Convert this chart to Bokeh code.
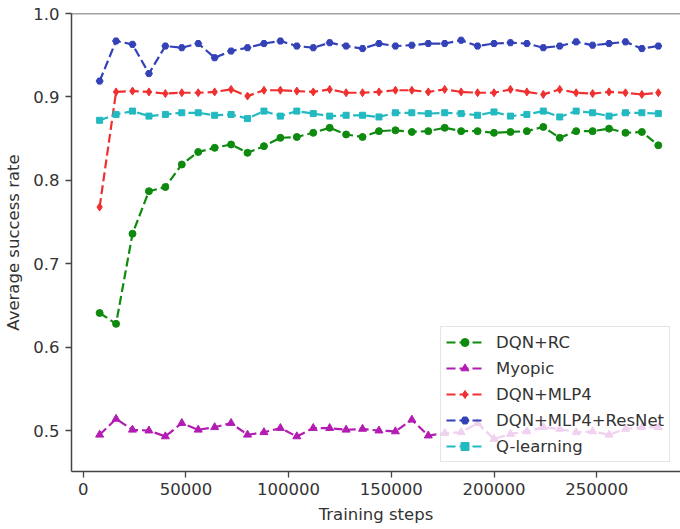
from bokeh.plotting import figure
from bokeh.models import (Range1d, FixedTicker, BasicTickFormatter, PrintfTickFormatter,
                          Legend, LegendItem, Span)
from bokeh.embed import file_html
from bokeh.resources import INLINE

steps = [8000, 16000, 24000, 32000, 40000, 48000, 56000, 64000, 72000, 80000,
         88000, 96000, 104000, 112000, 120000, 128000, 136000, 144000, 152000, 160000,
         168000, 176000, 184000, 192000, 200000, 208000, 216000, 224000, 232000, 240000,
         248000, 256000, 264000, 272000, 280000]

dqn_rc = [0.641, 0.628, 0.736, 0.787, 0.792, 0.819, 0.834, 0.839, 0.843, 0.833,
          0.841, 0.851, 0.852, 0.857, 0.863, 0.855, 0.852, 0.859, 0.860, 0.858,
          0.859, 0.863, 0.859, 0.859, 0.857, 0.858, 0.859, 0.864, 0.851, 0.859,
          0.859, 0.862, 0.857, 0.858, 0.842]

myopic = [0.495, 0.514, 0.501, 0.500, 0.493, 0.509, 0.501, 0.504, 0.509, 0.495,
          0.498, 0.503, 0.493, 0.503, 0.503, 0.501, 0.502, 0.500, 0.499, 0.513,
          0.494, 0.497, 0.498, 0.509, 0.490, 0.496, 0.499, 0.504, 0.502, 0.498,
          0.499, 0.495, 0.502, 0.504, 0.504]

dqn_mlp4 = [0.768, 0.906, 0.907, 0.906, 0.904, 0.905, 0.905, 0.906, 0.909, 0.901,
            0.908, 0.908, 0.907, 0.906, 0.909, 0.905, 0.905, 0.906, 0.908, 0.908,
            0.906, 0.909, 0.906, 0.905, 0.905, 0.909, 0.906, 0.903, 0.909, 0.905,
            0.904, 0.906, 0.905, 0.903, 0.905]

dqn_resnet = [0.919, 0.967, 0.963, 0.928, 0.961, 0.959, 0.964, 0.947, 0.955, 0.959,
              0.964, 0.967, 0.961, 0.959, 0.965, 0.961, 0.958, 0.964, 0.961, 0.962,
              0.964, 0.964, 0.968, 0.961, 0.964, 0.965, 0.964, 0.959, 0.961, 0.966,
              0.962, 0.964, 0.966, 0.958, 0.961]

q_learning = [0.872, 0.879, 0.883, 0.877, 0.879, 0.881, 0.881, 0.878, 0.879, 0.874,
              0.883, 0.877, 0.883, 0.880, 0.877, 0.878, 0.878, 0.876, 0.881, 0.881,
              0.880, 0.881, 0.880, 0.878, 0.882, 0.877, 0.879, 0.883, 0.876, 0.883,
              0.881, 0.877, 0.881, 0.881, 0.880]

x_ticks = [0, 50000, 100000, 150000, 200000, 250000]
y_ticks = [0.5, 0.6, 0.7, 0.8, 0.9, 1.0]

series = [
    ("DQN+RC", dqn_rc, "#0e8a0e", "circle", 7),
    ("Myopic", myopic, "#b21cb2", "triangle", 8),
    ("DQN+MLP4", dqn_mlp4, "#f03030", "diamond", 8),
    ("DQN+MLP4+ResNet", dqn_resnet, "#3442b8", "hex", 7),
    ("Q-learning", q_learning, "#22b9c0", "square", 6),
]

FONT = "DejaVu Sans"
TXT = "#333333"
FS = "16.5px"

p = figure(width=680, height=529, output_backend="svg", toolbar_location=None,
           x_range=Range1d(-5700, 290800), y_range=Range1d(0.451, 1.0),
           min_border_left=71, min_border_right=0, min_border_top=13,
           min_border_bottom=58)
p.outline_line_color = None
p.xgrid.grid_line_color = None
p.ygrid.grid_line_color = None

items = []
for name, vals, color, marker, size in series:
    r1 = p.line(steps, vals, line_color=color, line_width=2.2, line_dash="9 4")
    r2 = p.scatter(steps, vals, marker=marker, size=size, fill_color=color,
                   line_color=color)
    items.append(LegendItem(label=name, renderers=[r1, r2]))

p.add_layout(Span(location=1.0, dimension="width", line_color="#444444",
                  line_width=1.5))

for ax in (p.xaxis[0], p.yaxis[0]):
    ax.axis_line_color = "#444444"
    ax.axis_line_width = 1.5
    ax.major_tick_line_color = "#444444"
    ax.major_tick_line_width = 1.3
    ax.major_tick_out = 6
    ax.major_tick_in = 0
    ax.minor_tick_line_color = None
    ax.major_label_text_font = FONT
    ax.major_label_text_font_size = FS
    ax.major_label_text_color = TXT
    ax.major_label_text_line_height = 1.0
    ax.axis_label_text_font = FONT
    ax.axis_label_text_font_size = FS
    ax.axis_label_text_font_style = "normal"
    ax.axis_label_text_color = TXT
    ax.axis_label_text_line_height = 1.0

p.xaxis.ticker = FixedTicker(ticks=x_ticks)
p.xaxis.formatter = BasicTickFormatter(use_scientific=False)
p.xaxis.major_label_standoff = 5
p.xaxis.axis_label = "Training steps"
p.xaxis.axis_label_standoff = 7

p.yaxis.ticker = FixedTicker(ticks=y_ticks)
p.yaxis.formatter = PrintfTickFormatter(format="%.1f")
p.yaxis.major_label_standoff = 6
p.yaxis.axis_label = "Average success rate"
p.yaxis.axis_label_standoff = 7

legend = Legend(items=items, location=(369, 9))
legend.label_text_font = FONT
legend.label_text_font_size = FS
legend.label_text_color = TXT
legend.glyph_width = 37
legend.glyph_height = 20
legend.label_height = 20
legend.label_standoff = 13
legend.spacing = 6
legend.padding = 5
legend.margin = 0
legend.border_line_color = "#cccccc"
legend.border_line_width = 1
legend.background_fill_alpha = 0.8
p.add_layout(legend)

open("out.html", "w").write(file_html(p, INLINE))
